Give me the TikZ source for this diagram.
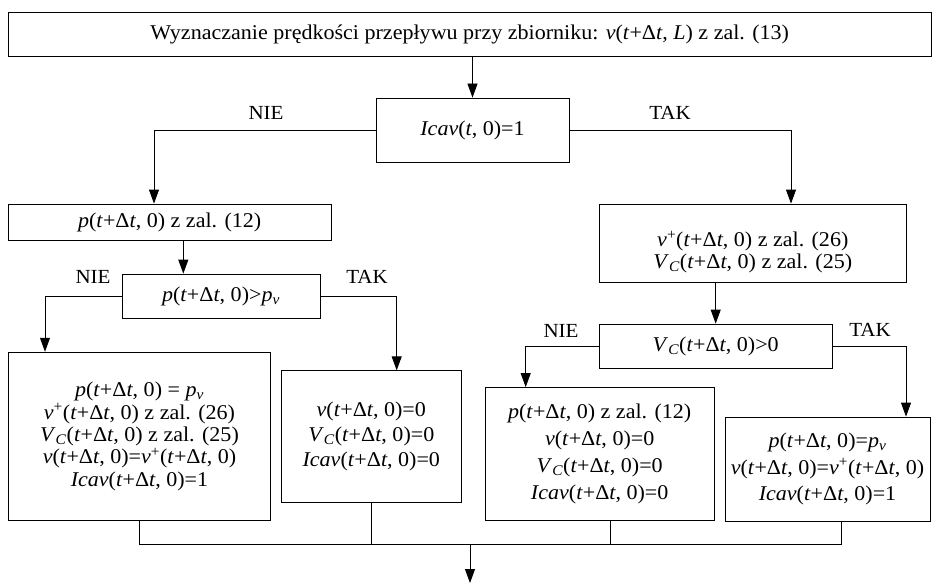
\documentclass[tikz,border=0pt]{standalone}
\usepackage{fontspec}
\setmainfont{Liberation Serif}[FakeStretch=1.05]
\usetikzlibrary{arrows.meta}
% shorthand for the time argument t+Δt
\newcommand{\tdt}{\textit{t}+Δ\textit{t}}
\newcommand{\pv}{\textit{p}\textsubscript{\textit{v}}}
\newcommand{\VC}{\textit{V}\textsubscript{\textit{C}}}
\newcommand{\vplus}{\textit{v}\textsuperscript{+}}
\begin{document}
\begin{tikzpicture}[x=1pt,y=-1pt,
  box/.style={draw=black, line width=0.8pt, rectangle, inner sep=0pt, align=center,
    font=\fontsize{21}{25}\selectfont},
  link/.style={draw=black, line width=0.8pt},
  arr/.style={link, -{Triangle[length=14pt,width=10pt]}},
  lbl/.style={inner sep=0pt, font=\fontsize{20}{22}\selectfont}
]
\useasboundingbox (0,0) rectangle (932,583);

% boxes
\node[box, minimum width=922.5, minimum height=44.4] (top) at (469.75,34.5)
  {Wyznaczanie prędkości przepływu przy zbiorniku: \textit{v}(\tdt, \textit{L}) z zal. (13)};
\node[box, minimum width=193, minimum height=64] (icav) at (472.5,130)
  {\textit{Icav}(\textit{t}, 0)=1};
\node[box, minimum width=322.7, minimum height=36] (p12) at (169.7,222)
  {\textit{p}(\tdt, 0) z zal. (12)};
\node[box, minimum width=198, minimum height=44] (c1) at (221,296)
  {\textit{p}(\tdt, 0)>\pv};
\node[box, minimum width=262.4, minimum height=168.7, font=\fontsize{21}{22.4}\selectfont] (bl) at (139.5,436.5)
  {\textit{p}(\tdt, 0) = \pv\\
   \vplus(\tdt, 0) z zal. (26)\\
   \VC(\tdt, 0) z zal. (25)\\
   \textit{v}(\tdt, 0)=\vplus(\tdt, 0)\\
   \textit{Icav}(\tdt, 0)=1};
\node[box, minimum width=179.3, minimum height=131.3] (mid) at (371.3,436.4)
  {\textit{v}(\tdt, 0)=0\\
   \VC(\tdt, 0)=0\\
   \textit{Icav}(\tdt, 0)=0};
% the two lines of this box sit below its middle: a tall strut on the first line pushes them down
\node[box, minimum width=307.7, minimum height=78, font=\fontsize{21}{22}\selectfont] (rt) at (752.8,243)
  {\rule{0pt}{34pt}\vplus(\tdt, 0) z zal. (26)\\
   \VC(\tdt, 0) z zal. (25)};
\node[box, minimum width=233.3, minimum height=44] (c2) at (715.7,346)
  {\VC(\tdt, 0)>0};
\node[box, minimum width=229.3, minimum height=133.2, font=\fontsize{21}{27}\selectfont] (b3) at (599.7,454.1)
  {\textit{p}(\tdt, 0) z zal. (12)\\
   \textit{v}(\tdt, 0)=0\\
   \VC(\tdt, 0)=0\\
   \textit{Icav}(\tdt, 0)=0};
\node[box, minimum width=205, minimum height=104, font=\fontsize{21}{26.7}\selectfont] (b4) at (827.5,469)
  {\textit{p}(\tdt, 0)=\pv\\
   \textit{v}(\tdt, 0)=\vplus(\tdt, 0)\\
   \textit{Icav}(\tdt, 0)=1};

% branch labels
\node[lbl] (nie1) at (266,113) {NIE};
\node[lbl] (tak1) at (670,113) {TAK};
\node[lbl] (nie2) at (93,277) {NIE};
\node[lbl] (tak2) at (367,277) {TAK};
\node[lbl] (nie3) at (561,331) {NIE};
\node[lbl] (tak3) at (870,330) {TAK};

% entry points of the branch arrows
\coordinate (p12in) at ([xshift=-15.7pt]p12.north);
\coordinate (rtin) at ([xshift=38.2pt]rt.north);
\coordinate (c1in) at ([xshift=-37.7pt]c1.north);
\coordinate (blin) at ([xshift=-94.5pt]bl.north);
\coordinate (midin) at ([xshift=25.4pt]mid.north);
\coordinate (b3in) at ([xshift=-74pt]b3.north);
\coordinate (b4in) at ([xshift=78.5pt]b4.north);

% flow
\draw[arr] (top.south -| icav.north) -- (icav.north);
\draw[arr] (icav.west) -| (p12in);
\draw[arr] (icav.east) -| (rtin);
\draw[arr] (p12.south -| c1in) -- (c1in);
\draw[arr] (c1.west) -| (blin);
\draw[arr] (c1.east) -| (midin);
\draw[arr] (rt.south -| c2.north) -- (c2.north);
\draw[arr] (c2.west) -| (b3in);
\draw[arr] (c2.east) -| (b4in);

% merge of the four branches
\coordinate (join) at (470,544.3);
\coordinate (b3out) at ([xshift=11pt]b3.south);
\coordinate (b4out) at ([xshift=14.2pt]b4.south);
\coordinate (exit) at (470,583);
\draw[link] (bl.south) |- (b4out |- join) -- (b4out);
\draw[link] (mid.south) -- (mid.south |- join);
\draw[link] (b3out) -- (b3out |- join);
\draw[arr] (join) -- (exit);
\end{tikzpicture}
\end{document}
